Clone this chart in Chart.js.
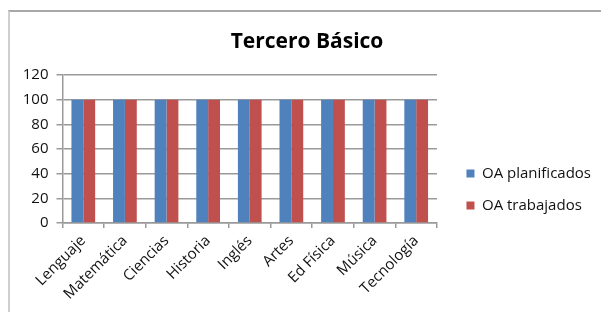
<!DOCTYPE html>
<html>
<head>
<meta charset="utf-8">
<script src="https://cdn.jsdelivr.net/npm/chart.js@4/dist/chart.umd.min.js"></script>
<style>
  html, body { margin: 0; padding: 0; background: #fff; }
  #wrap { position: relative; width: 601px; height: 312px; overflow: hidden; }
  #frame { position: absolute; left: 8px; top: 10px; width: 640px; height: 360px;
           border-top: 2px solid #a8a8a8; border-left: 2px solid #cfcfcf; box-sizing: border-box; }
  canvas { position: absolute; left: 0; top: 0; }
</style>
</head>
<body>
<div id="wrap">
  <div id="frame"></div>
  <canvas id="c" width="601" height="312"></canvas>
</div>
<script>
const categories = ['Lenguaje', 'Matemática', 'Ciencias', 'Historia', 'Inglés', 'Artes', 'Ed Física', 'Música', 'Tecnología'];
const planificados = [100, 100, 100, 100, 100, 100, 100, 100, 100];
const trabajados = [100, 100, 100, 100, 100, 100, 100, 100, 100];
const seriesNames = ['OA planificados', 'OA trabajados'];
const yTicks = [0, 20, 40, 60, 80, 100, 120];

const FONT = "'Open Sans', sans-serif";
const GRID = '#9a9a9a';

new Chart(document.getElementById('c'), {
  type: 'bar',
  data: {
    labels: categories,
    datasets: [
      { label: seriesNames[0], data: planificados, backgroundColor: '#4F81BD', borderWidth: 0,
        categoryPercentage: 0.57, barPercentage: 1.0 },
      { label: seriesNames[1], data: trabajados, backgroundColor: '#C0504D', borderWidth: 0,
        categoryPercentage: 0.57, barPercentage: 1.0 }
    ]
  },
  options: {
    responsive: false,
    animation: false,
    devicePixelRatio: 1,
    layout: { padding: { left: 13, right: 0, top: 0, bottom: 0 } },
    plugins: {
      title: {
        display: true,
        text: 'Tercero Básico',
        color: '#000',
        font: { family: FONT, size: 21, weight: 'bold', lineHeight: 1.2 },
        padding: { top: 29, bottom: 21 }
      },
      legend: {
        display: true,
        position: 'right',
        align: 'center',
        maxWidth: 153,
        title: { display: true, text: '', font: { size: 10, lineHeight: 1 }, padding: { top: 57, bottom: 0 } },
        labels: {
          boxWidth: 8, boxHeight: 8, padding: 17,
          color: '#111',
          font: { family: FONT, size: 15 }
        }
      },
      tooltip: { enabled: false }
    },
    scales: {
      x: {
        offset: true,
        grid: { display: true, drawOnChartArea: false, drawTicks: true, tickLength: 5, color: GRID, lineWidth: 1.5, offset: true },
        border: { display: true, color: GRID, width: 1.5 },
        ticks: { color: '#111', font: { family: FONT, size: 15 }, minRotation: 45, maxRotation: 45, padding: 4, autoSkip: false },
        afterFit: (s) => { s.height = 89; }
      },
      y: {
        min: 0, max: 120,
        afterBuildTicks: (s) => { s.ticks = yTicks.map(v => ({ value: v })); },
        grid: { color: GRID, lineWidth: 1.5, tickLength: 6, drawTicks: true },
        border: { display: true, color: GRID, width: 1.5 },
        ticks: { color: '#111', font: { family: FONT, size: 15 }, padding: 8 },
        afterFit: (s) => { s.width = 49.5; }
      },
      gap: {
        type: 'linear',
        axis: 'y',
        position: 'right',
        display: true,
        grid: { display: false, drawTicks: false },
        border: { display: false },
        ticks: { display: false },
        afterFit: (s) => { s.width = Math.max(0, 601 - s.chart.legend.width - 437); }
      }
    }
  }
});
</script>
</body>
</html>
